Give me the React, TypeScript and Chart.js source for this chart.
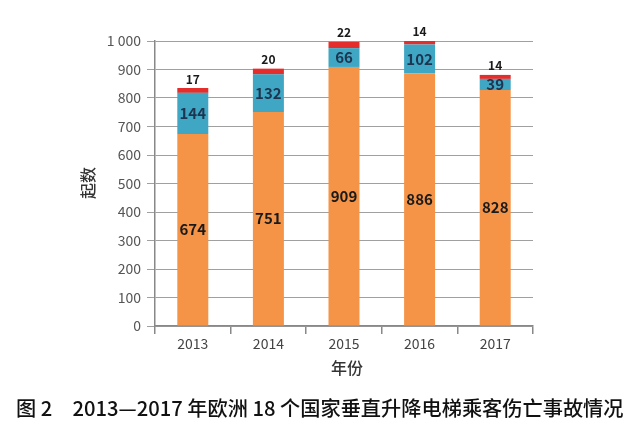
import React, { useEffect, useRef } from "react";
import { Chart, registerables } from "chart.js";

Chart.register(...registerables);

const categories = ["2013", "2014", "2015", "2016", "2017"];
const orangeValues = [674, 751, 909, 886, 828];
const blueValues = [144, 132, 66, 102, 39];
const redValues = [17, 20, 22, 14, 14];
const yTicks = [0, 100, 200, 300, 400, 500, 600, 700, 800, 900, 1000];
const yTitle = "起数";
const xTitle = "年份";
const caption = "图 2　2013—2017 年欧洲 18 个国家垂直升降电梯乘客伤亡事故情况";

const FONT = '"Noto Sans CJK SC", "DejaVu Sans", sans-serif';

const labelPlugin = {
  id: "labels",
  afterDatasetsDraw(chart: any) {
    const ctx = chart.ctx;
    ctx.save();
    ctx.textAlign = "center";
    ctx.textBaseline = "middle";
    const m0 = chart.getDatasetMeta(0);
    const m1 = chart.getDatasetMeta(1);
    const m2 = chart.getDatasetMeta(2);
    m0.data.forEach((bar: any, i: number) => {
      ctx.font = `bold 15px ${FONT}`;
      ctx.fillStyle = "#1a1a1a";
      ctx.fillText(String(orangeValues[i]), bar.x, (bar.y + bar.base) / 2);
    });
    m1.data.forEach((bar: any, i: number) => {
      ctx.font = `bold 15px ${FONT}`;
      ctx.fillStyle = "#1d3550";
      ctx.fillText(String(blueValues[i]), bar.x, (bar.y + bar.base) / 2);
    });
    m2.data.forEach((bar: any, i: number) => {
      ctx.font = `bold 12px ${FONT}`;
      ctx.fillStyle = "#1a1a1a";
      ctx.fillText(String(redValues[i]), bar.x, bar.y - 9);
    });
    ctx.restore();
  },
  afterDraw(chart: any) {
    const ctx = chart.ctx;
    ctx.save();
    ctx.fillStyle = "#333";
    ctx.textAlign = "center";
    ctx.textBaseline = "middle";
    ctx.font = `500 16px ${FONT}`;
    ctx.fillText(xTitle, 347, 368);
    ctx.save();
    ctx.translate(88, 183);
    ctx.rotate(-Math.PI / 2);
    ctx.fillText(yTitle, 0, 0);
    ctx.restore();
    // caption
    ctx.fillStyle = "#111";
    ctx.textAlign = "left";
    let size = 17;
    ctx.font = `500 ${size}px ${FONT}`;
    const w = ctx.measureText(caption).width;
    size = size * 608 / w;
    ctx.font = `500 ${size}px ${FONT}`;
    ctx.fillText(caption, 16, 408);
    ctx.restore();
  },
};

export default function App() {
  const ref = useRef<HTMLCanvasElement | null>(null);
  useEffect(() => {
    if (!ref.current) return;
    const chart = new Chart(ref.current, {
      type: "bar",
      data: {
        labels: categories,
        datasets: [
          { data: orangeValues, backgroundColor: "#f59446" },
          { data: blueValues, backgroundColor: "#3fa6c3" },
          { data: redValues, backgroundColor: "#e52d2b" },
        ],
      },
      options: {
        animation: false,
        responsive: false,
        devicePixelRatio: 1,
        layout: { padding: { left: 0, right: 107, top: 41, bottom: 0 } },
        plugins: { legend: { display: false }, tooltip: { enabled: false } },
        datasets: { bar: { barPercentage: 0.41, categoryPercentage: 1 } },
        scales: {
          x: {
            stacked: true,
            grid: {
              offset: true,
              drawOnChartArea: false,
              tickLength: 8,
              color: "#888",
              lineWidth: 1.5,
            },
            border: { color: "#888", width: 1.5 },
            ticks: { color: "#444", font: { family: FONT, size: 14 }, padding: 1 },
            afterFit(scale: any) {
              scale.height = 102;
            },
          },
          y: {
            stacked: true,
            min: 0,
            max: 1000,
            afterBuildTicks(scale: any) {
              scale.ticks = yTicks.map((v) => ({ value: v }));
            },
            grid: { color: "#a0a0a0", lineWidth: 1, tickLength: 8 },
            border: { color: "#888", width: 1.5 },
            ticks: {
              color: "#555",
              font: { family: FONT, size: 14 },
              padding: 6,
              callback: (v: any) => (Number(v) === 1000 ? "1 000" : String(v)),
            },
            afterFit(scale: any) {
              scale.width = 155;
            },
          },
        },
      },
      plugins: [labelPlugin],
    });
    return () => chart.destroy();
  }, []);
  return (
    <div style={{ position: "absolute", left: 0, top: 0, width: 640, height: 428, background: "#fff" }}>
      <canvas ref={ref} width={640} height={428} style={{ width: 640, height: 428 }} />
    </div>
  );
}
